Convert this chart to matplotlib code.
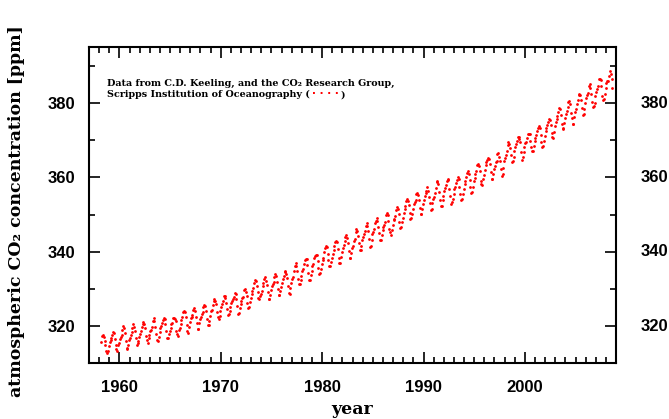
import numpy as np
import matplotlib.pyplot as plt
from matplotlib.ticker import MultipleLocator
import matplotlib.transforms as mtransforms

# Mauna Loa monthly mean CO2 [ppm], one row per year (Jan..Dec), nan = no point
years = list(range(1958, 2009))
co2 = [
    [np.nan, np.nan, 315.71, 317.45, 317.50, 317.10, 315.86, 314.93, 313.20, 312.66, 313.33, 314.67],
    [315.62, 316.38, 316.71, 317.72, 318.29, 318.15, 316.54, 314.80, 313.84, 313.26, 314.80, 315.58],
    [316.43, 316.97, 317.58, 319.02, 320.03, 319.59, 318.18, 315.91, 314.16, 313.83, 315.00, 316.19],
    [316.93, 317.70, 318.54, 319.48, 320.58, 319.77, 318.57, 316.79, 314.80, 315.38, 316.10, 317.01],
    [317.94, 318.56, 319.68, 320.63, 321.01, 320.55, 319.58, 317.40, 316.26, 315.42, 316.69, 317.69],
    [318.74, 319.08, 319.86, 321.39, 322.25, 321.47, 319.74, 317.77, 316.21, 315.99, 317.12, 318.31],
    [319.57, 320.07, 320.73, 321.77, 322.25, 321.89, 320.44, 318.70, 316.70, 316.79, 317.79, 318.71],
    [319.44, 320.44, 320.89, 322.13, 322.16, 321.87, 321.39, 318.81, 317.81, 317.30, 318.87, 319.42],
    [320.62, 321.59, 322.39, 323.87, 324.01, 323.75, 322.39, 320.37, 318.64, 318.10, 319.79, 321.08],
    [322.07, 322.50, 323.04, 324.42, 325.00, 324.09, 322.55, 320.92, 319.31, 319.31, 320.72, 321.96],
    [322.57, 323.15, 323.89, 325.02, 325.57, 325.36, 324.14, 322.03, 320.41, 320.25, 321.31, 322.84],
    [324.00, 324.42, 325.64, 326.66, 327.34, 326.76, 325.88, 323.67, 322.38, 321.78, 322.85, 324.11],
    [325.03, 325.99, 326.87, 328.13, 328.07, 327.66, 326.35, 324.69, 323.10, 323.16, 323.98, 325.13],
    [326.17, 326.68, 327.18, 327.78, 328.92, 328.57, 327.34, 325.46, 323.36, 323.57, 324.80, 326.01],
    [326.77, 327.63, 327.75, 329.72, 330.07, 329.09, 328.05, 326.32, 324.93, 325.06, 326.50, 327.55],
    [328.54, 329.56, 330.30, 331.50, 332.48, 332.07, 330.87, 329.31, 327.51, 327.18, 328.16, 328.64],
    [329.35, 330.71, 331.48, 332.65, 333.20, 332.16, 331.07, 329.12, 327.32, 327.28, 328.30, 329.58],
    [330.73, 331.46, 331.90, 333.17, 333.94, 333.45, 331.97, 329.95, 328.50, 328.34, 329.37, 330.58],
    [331.59, 332.75, 333.52, 334.64, 334.77, 334.00, 333.06, 330.68, 328.95, 328.75, 330.15, 331.62],
    [332.66, 333.13, 334.95, 336.13, 336.93, 336.17, 334.88, 332.56, 331.29, 331.27, 332.41, 333.60],
    [334.95, 335.25, 336.66, 337.69, 338.03, 338.01, 336.41, 334.41, 332.37, 332.41, 333.75, 334.90],
    [336.14, 336.69, 338.27, 338.95, 339.21, 339.26, 337.54, 335.75, 333.98, 334.19, 335.31, 336.81],
    [337.90, 338.34, 340.01, 340.93, 341.48, 341.33, 339.40, 337.70, 336.19, 336.15, 337.27, 338.32],
    [339.29, 340.55, 341.61, 342.53, 343.03, 342.54, 340.78, 338.44, 336.95, 337.08, 338.58, 339.88],
    [340.96, 341.73, 342.81, 343.97, 344.63, 343.79, 342.32, 340.09, 338.28, 338.29, 339.60, 340.90],
    [341.68, 342.90, 343.33, 345.25, 346.03, 345.63, 344.19, 342.27, 340.35, 340.38, 341.59, 343.05],
    [344.10, 344.79, 345.52, 346.84, 347.63, 346.98, 345.53, 343.55, 341.40, 341.67, 343.10, 344.70],
    [345.21, 346.16, 347.74, 348.34, 349.06, 348.38, 346.72, 345.02, 343.27, 343.13, 344.49, 345.88],
    [346.56, 347.28, 348.01, 349.77, 350.38, 349.93, 348.16, 346.08, 345.22, 344.51, 345.93, 347.22],
    [348.52, 348.73, 349.73, 351.31, 352.09, 351.53, 350.11, 348.08, 346.52, 346.59, 347.96, 349.16],
    [350.39, 351.64, 352.40, 353.69, 354.21, 353.72, 352.69, 350.40, 348.92, 349.13, 350.20, 351.41],
    [352.91, 353.27, 353.96, 355.64, 355.86, 355.37, 353.99, 351.81, 350.05, 350.25, 351.49, 352.85],
    [353.80, 355.04, 355.73, 356.32, 357.32, 356.34, 354.84, 353.01, 351.31, 351.62, 353.07, 354.33],
    [354.84, 355.73, 357.23, 358.66, 359.13, 358.13, 356.19, 353.85, 352.25, 352.35, 353.81, 355.12],
    [356.25, 357.11, 357.86, 359.09, 359.59, 359.33, 357.01, 354.94, 352.96, 353.32, 354.32, 355.57],
    [357.00, 357.31, 358.47, 359.27, 360.19, 359.52, 357.33, 355.64, 354.03, 354.12, 355.41, 356.91],
    [358.24, 358.92, 359.99, 361.23, 361.65, 360.81, 359.38, 357.46, 355.73, 356.07, 357.53, 358.98],
    [359.92, 360.86, 361.83, 363.30, 363.69, 363.19, 361.64, 359.12, 358.17, 357.99, 359.45, 360.68],
    [362.07, 363.24, 364.17, 364.57, 365.13, 364.92, 363.55, 361.38, 359.54, 359.58, 360.89, 362.24],
    [363.09, 364.03, 364.51, 366.35, 366.64, 365.59, 364.31, 362.25, 360.29, 360.82, 362.49, 364.38],
    [365.26, 365.98, 367.24, 368.66, 369.42, 368.99, 367.82, 365.95, 364.02, 364.40, 365.52, 367.13],
    [368.18, 369.07, 369.68, 370.99, 370.96, 370.30, 369.45, 366.90, 364.81, 365.37, 366.72, 368.10],
    [369.29, 369.54, 370.60, 371.82, 371.58, 371.70, 369.86, 368.13, 367.00, 367.03, 368.37, 369.67],
    [370.59, 371.51, 372.43, 373.37, 373.85, 373.22, 371.50, 369.61, 368.18, 368.45, 369.76, 371.24],
    [372.53, 373.20, 374.12, 375.02, 375.76, 375.52, 374.01, 371.85, 370.75, 370.55, 372.25, 373.79],
    [374.88, 375.64, 376.45, 377.73, 378.60, 378.28, 376.70, 374.38, 373.17, 373.15, 374.66, 375.99],
    [377.00, 377.87, 378.88, 380.35, 380.62, 379.69, 377.47, 376.01, 374.25, 374.46, 376.16, 377.51],
    [378.46, 379.73, 380.77, 382.29, 382.45, 382.21, 380.74, 378.74, 376.70, 377.00, 378.35, 380.11],
    [381.38, 382.19, 382.67, 384.61, 385.03, 384.05, 382.46, 380.41, 378.85, 379.13, 380.15, 381.82],
    [382.89, 383.90, 384.58, 386.50, 386.56, 386.10, 384.50, 381.99, 380.96, 381.12, 382.45, 383.95],
    [385.52, 385.82, 386.03, 387.21, 388.54, 387.76, 386.36, 384.09, np.nan, np.nan, np.nan, np.nan],
]
x_ticks = [1960, 1970, 1980, 1990, 2000]
y_ticks = [320, 340, 360, 380]

vals = np.array(co2).ravel()
t = np.array([y + (m + 0.5) / 12 for y in years for m in range(12)])
ok = ~np.isnan(vals)

fig = plt.figure(figsize=(6.69, 4.19), dpi=100)
ax = fig.add_axes([0.133, 0.133, 0.788, 0.754])

ax.plot(t[ok], vals[ok], linestyle='none', marker='o', markersize=2.0,
        color='#ff0000', markeredgewidth=0)

ax.set_xlim(1957, 2009)
ax.set_ylim(310, 395)
ax.set_xticks(x_ticks)
ax.set_yticks(y_ticks)
ax.xaxis.set_minor_locator(MultipleLocator(1))
ax.yaxis.set_minor_locator(MultipleLocator(10))
ax.tick_params(which='both', direction='in', top=True, right=True, width=1.2)
ax.tick_params(which='major', length=8)
ax.tick_params(which='minor', length=4)
ax.tick_params(axis='x', which='major', pad=12)
ax.tick_params(axis='y', which='major', pad=10)
for lab in ax.get_xticklabels() + ax.get_yticklabels():
    lab.set_family('Liberation Sans')
    lab.set_fontsize(12)
    lab.set_fontweight('bold')
for sp in ax.spines.values():
    sp.set_linewidth(1.5)

fig.text(0.526, 0.022, 'year', ha='center', va='center',
         family='DejaVu Serif', fontweight='bold', fontsize=12.5)
fig.text(0.024, 0.497, 'atmospheric CO₂ concentration [ppm]', rotation=90,
         ha='center', va='center', family='DejaVu Serif', fontweight='bold',
         fontsize=12.5)

# tick labels of the neighbouring panel, cut off at the right edge
trans = mtransforms.blended_transform_factory(fig.transFigure, ax.transData)
for v in y_ticks:
    ax.text(0.957, v, str(v), transform=trans, ha='left', va='center',
            family='Liberation Sans', fontweight='bold', fontsize=12, clip_on=False)

# key
note = dict(family='DejaVu Serif', fontweight='bold', fontsize=6.9)
ax.text(0.034, 0.885, 'Data from C.D. Keeling, and the CO₂ Research Group,',
        transform=ax.transAxes, va='center', **note)
t2 = ax.text(0.034, 0.85, 'Scripps Institution of Oceanography (',
             transform=ax.transAxes, va='center', **note)
t3 = ax.annotate('· · · ·', xy=(1, 0), xycoords=t2, xytext=(1.5, 0),
                 textcoords='offset points', va='bottom',
                 color='#ff0000', family='DejaVu Sans', fontweight='bold', fontsize=7.5)
ax.annotate(')', xy=(1, 0), xycoords=t3, xytext=(1.5, 0),
            textcoords='offset points', va='bottom', **note)

fig.savefig('out.png', dpi=100)
